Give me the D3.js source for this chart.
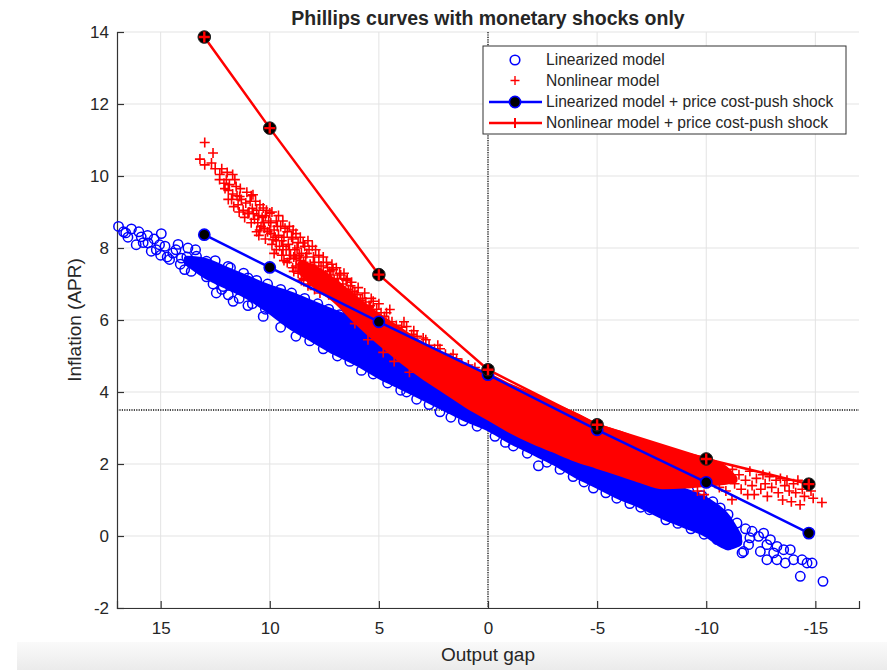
<!DOCTYPE html>
<html>
<head>
<meta charset="utf-8">
<script src="https://cdn.jsdelivr.net/npm/d3@7"></script>
<style>
  body { margin: 0; background: #fff; }
  text { font-family: "Liberation Sans", Arial, Helvetica, sans-serif; fill: #262626; }
</style>
</head>
<body>
<div id="chart"></div>
<script>
// ---- data ----
var xTicks = [15, 10, 5, 0, -5, -10, -15];
var yTicks = [-2, 0, 2, 4, 6, 8, 10, 12, 14];

// price cost-push shock lines
var shockX = [13, 10, 5, 0, -5, -10, -14.7];
var linShock = [8.37, 7.46, 5.95, 4.48, 2.95, 1.49, 0.08];
var nonShock = [13.86, 11.33, 7.26, 4.62, 3.09, 2.14, 1.44];

// dense core of the linearized cloud (upper / lower edge)
var blueBandX  = [13.8, 13, 12, 11, 10, 9, 8, 7, 6, 5, 4, 3, 2, 1, 0, -1, -2, -3, -4, -5, -6, -7, -8, -9, -10, -11, -11.5];
var blueBandHi = [7.7, 7.65, 7.4, 7.15, 6.9, 6.7, 6.45, 6.2, 5.95, 5.6, 5.2, 4.85, 4.45, 4.15, 3.85, 3.55, 3.3, 3.0, 2.7, 2.45, 2.15, 1.85, 1.45, 1.25, 1.0, 0.5, 0.0];
var blueBandLo = [7.6, 7.25, 6.95, 6.65, 6.25, 5.8, 5.45, 5.1, 4.8, 4.45, 4.15, 3.85, 3.55, 3.25, 3.0, 2.65, 2.35, 2.05, 1.7, 1.4, 1.1, 0.85, 0.55, 0.3, 0.05, -0.3, -0.2];

// dense core of the nonlinear cloud
var redBandX  = [8.6, 8, 7, 6, 5, 4, 3, 2, 1, 0, -1, -2, -3, -4, -5, -6, -7, -8, -9, -10, -10.8, -11.3];
var redBandHi = [7.55, 7.45, 7.05, 6.55, 6.1, 5.7, 5.3, 4.95, 4.7, 4.45, 4.15, 3.9, 3.62, 3.35, 3.05, 2.85, 2.62, 2.42, 2.25, 2.1, 1.9, 1.6];
var redBandLo = [7.35, 7.0, 6.55, 5.95, 5.4, 4.9, 4.45, 4.05, 3.65, 3.3, 2.95, 2.65, 2.4, 2.15, 1.95, 1.75, 1.55, 1.38, 1.4, 1.45, 1.5, 1.55];

// single linearized points outside the core
var bluePts = [
  [16.93, 8.6], [16.34, 8.53], [16.6, 8.42], [15.89, 8.31], [16.12, 8.09], [15.58, 8.14], [15.43, 7.91],
  [14.97, 8.4], [15.05, 8.09], [15.3, 8.25], [14.44, 7.86], [14.59, 7.68], [14.05, 7.72], [13.75, 8.0],
  [14.2, 8.1], [13.9, 7.4], [13.36, 7.77], [13.29, 7.49], [12.9, 7.63], [12.75, 7.31], [13.5, 7.6],
  [16.7, 8.45], [16.5, 8.3], [16.0, 8.45], [15.8, 8.15], [15.6, 8.35], [15.2, 7.95], [15.0, 7.8],
  [14.8, 8.05], [14.7, 7.75], [14.3, 7.95], [14.1, 7.55], [13.8, 7.75], [13.6, 7.35], [13.4, 7.95],
  [13.1, 7.4], [12.9, 7.2], [12.6, 7.0], [12.2, 6.85], [11.9, 6.7], [11.4, 6.6], [11.0, 6.4], [10.2, 6.3],
  [11.91, 7.49], [12.45, 6.75], [11.68, 6.52], [12.14, 6.93], [11.0, 7.17], [11.22, 6.84], [10.61, 6.66],
  [12.5, 7.65], [11.8, 7.45], [11.2, 7.3], [10.6, 7.1], [10.1, 7.0], [9.5, 6.85], [9.0, 6.75], [8.4, 6.6],
  [7.8, 6.45], [7.3, 6.3], [6.8, 6.15], [12.3, 7.1], [11.5, 6.9], [10.8, 6.45],
  [10.3, 6.1], [9.5, 5.8], [8.8, 5.55], [8.17, 5.42], [7.55, 5.2], [6.9, 5.0], [6.33, 4.85], [5.8, 4.6],
  [5.26, 4.5], [4.6, 4.25], [4.0, 4.05], [3.73, 4.0], [3.27, 3.8], [2.7, 3.65], [2.2, 3.45], [1.7, 3.3],
  [1.13, 3.2], [0.5, 3.05], [-0.32, 2.77], [-0.8, 2.6], [-1.16, 2.5], [-1.8, 2.3], [-2.31, 1.95],
  [-2.7, 2.05], [-3.3, 1.85], [-3.9, 1.65], [-4.4, 1.5], [-4.83, 1.33], [-5.4, 1.2], [-5.9, 1.05],
  [-6.5, 0.9], [-7.0, 0.8], [-7.4, 0.73], [-8.15, 0.45], [-8.7, 0.35], [-9.3, 0.2], [-9.9, 0.05],
  [-10.5, -0.1], [-11.0, -0.25],
  [-8.6, 1.35], [-9.2, 1.25], [-9.8, 1.12], [-10.3, 0.95], [-10.64, 0.78], [-11.0, 0.6], [-11.41, 0.36],
  [-11.64, -0.47], [-12.1, 0.13], [-12.4, -0.01], [-12.63, 0.08], [-12.78, -0.24], [-12.94, -0.1],
  [-13.24, -0.29], [-12.78, -0.66], [-13.55, -0.38], [-13.85, -0.38], [-13.62, -0.75], [-14.0, -0.66],
  [-14.39, -0.66], [-14.62, -0.75], [-14.85, -0.75], [-14.31, -1.12], [-15.35, -1.26], [-11.94, -0.24],
  [-11.41, -0.15], [-12.48, -0.43], [-13.09, -0.47], [-13.24, -0.66], [-11.71, -0.43], [-11.2, 0.1],
  [-11.8, 0.2], [-12.0, -0.05]
];

// single nonlinear points outside the core
var redPts = [
  [12.98, 10.93], [13.2, 10.47], [12.6, 10.64], [12.98, 10.31], [12.67, 10.36], [12.29, 10.04],
  [11.99, 9.9], [11.7, 10.04], [11.85, 9.76], [11.54, 9.71], [10.77, 9.48], [11.38, 9.43],
  [12.5, 10.2], [12.3, 9.9], [12.1, 9.8], [11.9, 9.6], [11.7, 9.5], [11.5, 9.45], [11.45, 9.2],
  [11.3, 9.35], [11.22, 9.05], [11.1, 9.25], [11.0, 8.95], [10.9, 9.3], [10.8, 9.1], [10.7, 8.8],
  [10.6, 9.05], [10.46, 8.5], [10.5, 8.9], [10.3, 9.11], [10.3, 8.7], [10.2, 8.9], [10.0, 8.97],
  [10.1, 8.45], [9.95, 8.7], [9.85, 8.23], [9.8, 8.5], [9.7, 8.75], [9.6, 8.35], [9.55, 8.05],
  [9.5, 8.6], [9.39, 7.95], [9.35, 8.3], [9.2, 8.45], [9.15, 8.1], [9.05, 7.8], [8.93, 8.5],
  [8.95, 8.25], [8.85, 7.95], [8.78, 7.7], [8.7, 8.15], [8.6, 7.55], [8.55, 7.85], [8.47, 8.14],
  [8.4, 7.45], [8.35, 7.75], [8.32, 7.31], [8.2, 7.95], [8.15, 7.55], [8.05, 7.25], [8.0, 7.75],
  [7.9, 7.4], [7.85, 7.15], [7.75, 7.6], [7.7, 7.3], [7.6, 7.05], [7.55, 7.5], [7.45, 7.25],
  [7.35, 7.45], [7.3, 6.95], [7.2, 7.25], [7.1, 7.4], [7.0, 6.85], [6.9, 7.15], [6.8, 7.3],
  [6.65, 7.0], [6.5, 7.1], [6.4, 6.85], [6.2, 6.8], [6.0, 6.7], [5.85, 6.55], [5.6, 6.5],
  [5.4, 6.4], [5.26, 6.52], [5.1, 6.3], [4.9, 6.2], [4.75, 6.1], [4.5, 6.29], [4.4, 5.95],
  [4.2, 5.85], [3.95, 5.8], [3.73, 5.82], [3.5, 5.6], [3.25, 5.55], [2.97, 5.5], [2.7, 5.3],
  [2.45, 5.2], [2.2, 5.2], [1.95, 5.05], [1.7, 4.95], [1.44, 4.92], [1.2, 4.8], [0.9, 4.75],
  [0.6, 4.68], [6.6, 6.45], [6.1, 5.9], [5.5, 5.45], [4.8, 5.1], [4.3, 4.85], [3.6, 4.55],
  [11.05, 9.55], [10.95, 9.0], [10.85, 9.45], [10.75, 8.95], [10.65, 9.3], [10.55, 8.7], [10.45, 9.2],
  [10.35, 8.85], [10.25, 8.55], [10.15, 9.05], [10.05, 8.75], [9.95, 8.4], [9.9, 9.0], [9.75, 8.3],
  [9.65, 8.6], [9.6, 8.9], [9.45, 8.2], [9.4, 8.75], [9.3, 8.55], [9.25, 7.95], [9.1, 8.6], [9.0, 8.3],
  [8.9, 7.75], [8.8, 8.4], [8.75, 8.0], [8.65, 7.8], [8.6, 8.3], [8.45, 7.6], [8.4, 8.05], [8.3, 7.85],
  [8.25, 8.2], [8.1, 7.4], [8.05, 8.05], [7.95, 7.6], [7.9, 7.95], [7.8, 7.3], [7.75, 7.8], [7.65, 7.5],
  [7.55, 7.75], [7.5, 7.15], [7.4, 7.6], [7.25, 7.35], [7.15, 7.55], [7.05, 7.1], [6.95, 7.45],
  [6.85, 6.95], [6.75, 7.25], [6.6, 7.3], [6.55, 6.8], [6.45, 7.15], [6.3, 6.95], [6.25, 7.05],
  [6.1, 6.75], [5.95, 6.9], [5.75, 6.6], [5.65, 6.75], [5.45, 6.35], [5.35, 6.6], [5.0, 6.45],
  [4.65, 6.2], [4.55, 5.95], [3.85, 5.95], [3.4, 5.7], [2.85, 5.45], [2.3, 5.3], [1.6, 5.05],
  [11.35, 9.65], [11.6, 9.9], [11.75, 9.35], [12.05, 9.65], [12.2, 10.2], [11.95, 10.1],
  [9.1, 7.7], [8.8, 7.5], [8.5, 7.35], [8.2, 7.15], [7.9, 7.0], [7.6, 6.85], [7.3, 6.7],
  [10.5, 8.35], [10.2, 8.25], [9.9, 8.1], [9.7, 7.95], [9.45, 7.8], [9.2, 7.6], [8.95, 7.45],
  [8.7, 7.3], [8.45, 7.15], [8.2, 7.0], [7.95, 6.85], [7.7, 6.75], [10.4, 8.6], [10.0, 8.5],
  [9.7, 8.2], [9.4, 8.05], [9.1, 7.95], [8.85, 7.8], [8.6, 7.65], [8.35, 7.55], [8.05, 7.4],
  [7.8, 7.2], [7.55, 7.05], [9.8, 7.85], [9.35, 7.65], [8.9, 7.35], [8.55, 7.1], [8.25, 6.95],
  [10.6, 8.45], [10.85, 8.7], [11.15, 8.85], [11.4, 9.0], [11.65, 9.15], [11.9, 9.35],
  [-10.5, 1.9], [-10.8, 1.6], [-11.18, 1.01], [-11.2, 1.85], [-11.3, 1.45], [-11.5, 1.7],
  [-11.6, 1.3], [-11.8, 1.55], [-11.9, 1.15], [-12.0, 1.8], [-12.1, 1.4], [-12.2, 1.15],
  [-12.3, 1.6], [-12.5, 1.3], [-12.6, 1.7], [-12.7, 1.45], [-12.8, 1.1], [-12.9, 1.65],
  [-13.0, 1.35], [-13.2, 1.55], [-13.3, 1.2], [-13.4, 1.6], [-13.5, 1.0], [-13.6, 1.4],
  [-13.7, 1.55], [-13.8, 1.25], [-13.9, 0.95], [-14.0, 1.45], [-14.1, 1.2], [-14.2, 1.55],
  [-14.3, 0.87], [-14.4, 1.3], [-14.5, 1.1], [-14.6, 1.45], [-14.8, 1.25], [-14.9, 1.05],
  [-15.3, 0.93], [-10.9, 1.25], [-11.0, 1.75], [-10.6, 1.35], [-9.6, 1.25], [-9.9, 1.15]
];

var legendLabels = [
  "Linearized model",
  "Nonlinear model",
  "Linearized model + price cost-push shock",
  "Nonlinear model + price cost-push shock"
];

var zeroGap = 0;
var steadyInfl = 3.5;

// ---- drawing ----
var W = 887, H = 670;
var plot = {left: 117, right: 859, top: 32, bottom: 608};
var BLUE = "#0000ff", RED = "#ff0000";

var svg = d3.select("#chart").append("svg")
    .attr("width", W)
    .attr("height", H);

// light grey strip at the bottom of the screenshot
var grad = svg.append("defs").append("linearGradient")
    .attr("id", "bot").attr("x1", 0).attr("y1", 0).attr("x2", 0).attr("y2", 1);
grad.append("stop").attr("offset", "0%").attr("stop-color", "#fafafa");
grad.append("stop").attr("offset", "100%").attr("stop-color", "#ebebeb");
svg.append("rect")
    .attr("x", 17).attr("y", 642).attr("width", W - 17).attr("height", H - 642)
    .attr("fill", "url(#bot)");

var x = d3.scaleLinear().domain([17, -17]).range([plot.left, plot.right]);
var y = d3.scaleLinear().domain([-2, 14]).range([plot.bottom, plot.top]);

// grid
svg.append("g").selectAll("line")
    .data(xTicks)
  .enter().append("line")
    .attr("x1", function(d) { return x(d); })
    .attr("x2", function(d) { return x(d); })
    .attr("y1", plot.top).attr("y2", plot.bottom)
    .attr("stroke", "#e3e3e3").attr("stroke-width", 1);
svg.append("g").selectAll("line")
    .data(yTicks)
  .enter().append("line")
    .attr("y1", function(d) { return y(d); })
    .attr("y2", function(d) { return y(d); })
    .attr("x1", plot.left).attr("x2", plot.right)
    .attr("stroke", "#e3e3e3").attr("stroke-width", 1);

// dotted reference lines
svg.append("line")
    .attr("x1", x(zeroGap)).attr("x2", x(zeroGap))
    .attr("y1", plot.top).attr("y2", plot.bottom)
    .attr("stroke", "#111").attr("stroke-width", 1.3)
    .attr("stroke-dasharray", "1.2,1.2");
svg.append("line")
    .attr("x1", plot.left).attr("x2", plot.right)
    .attr("y1", y(steadyInfl)).attr("y2", y(steadyInfl))
    .attr("stroke", "#111").attr("stroke-width", 1.3)
    .attr("stroke-dasharray", "1.2,1.2");

// axes
var xAxis = d3.axisBottom(x).tickValues(xTicks).tickSize(-7).tickPadding(14)
    .tickFormat(function(d) { return d; });
var yAxis = d3.axisLeft(y).tickValues(yTicks).tickSize(-7).tickPadding(8)
    .tickFormat(function(d) { return d; });

var gx = svg.append("g")
    .attr("transform", "translate(0," + plot.bottom + ")")
    .call(xAxis);
var gy = svg.append("g")
    .attr("transform", "translate(" + plot.left + ",0)")
    .call(yAxis);

[gx, gy].forEach(function(g) {
  g.select(".domain").attr("stroke", "#333").attr("stroke-width", 1.2);
  g.selectAll(".tick line").attr("stroke", "#333").attr("stroke-width", 1.2);
  g.selectAll(".tick text")
    .style("font-family", '"Liberation Sans", Arial, sans-serif')
    .style("font-size", "17px")
    .attr("fill", "#262626");
});

// helpers for markers
function plusPath(cx, cy, s) {
  return "M" + (cx - s) + "," + cy + "H" + (cx + s) + "M" + cx + "," + (cy - s) + "V" + (cy + s);
}

// linearized cloud
var blueBand = blueBandX.map(function(d, i) { return {x: d, hi: blueBandHi[i], lo: blueBandLo[i]}; });
var area = d3.area()
    .x(function(d) { return x(d.x); })
    .y0(function(d) { return y(d.lo); })
    .y1(function(d) { return y(d.hi); })
    .curve(d3.curveMonotoneX);

svg.append("path")
    .datum(blueBand)
    .attr("d", area)
    .attr("fill", BLUE)
    .attr("stroke", BLUE).attr("stroke-width", 6).attr("stroke-linejoin", "round");

svg.append("g").selectAll("circle")
    .data(bluePts)
  .enter().append("circle")
    .attr("cx", function(d) { return x(d[0]); })
    .attr("cy", function(d) { return y(d[1]); })
    .attr("r", 4.7)
    .attr("fill", "none")
    .attr("stroke", BLUE).attr("stroke-width", 1.5);

// nonlinear cloud
var redBand = redBandX.map(function(d, i) { return {x: d, hi: redBandHi[i], lo: redBandLo[i]}; });
svg.append("path")
    .datum(redBand)
    .attr("d", area)
    .attr("fill", RED)
    .attr("stroke", RED).attr("stroke-width", 6).attr("stroke-linejoin", "round");

svg.append("path")
    .attr("d", redPts.map(function(d) { return plusPath(x(d[0]), y(d[1]), 5); }).join(""))
    .attr("fill", "none")
    .attr("stroke", RED).attr("stroke-width", 1.6);

// shock lines
var line = d3.line()
    .x(function(d) { return x(d[0]); })
    .y(function(d) { return y(d[1]); });

var linPts = shockX.map(function(d, i) { return [d, linShock[i]]; });
var nonPts = shockX.map(function(d, i) { return [d, nonShock[i]]; });

svg.append("path")
    .datum(linPts)
    .attr("d", line)
    .attr("fill", "none").attr("stroke", BLUE).attr("stroke-width", 2.5);
svg.append("g").selectAll("circle")
    .data(linPts)
  .enter().append("circle")
    .attr("cx", function(d) { return x(d[0]); })
    .attr("cy", function(d) { return y(d[1]); })
    .attr("r", 5.6)
    .attr("fill", "#000")
    .attr("stroke", BLUE).attr("stroke-width", 1.6);

svg.append("path")
    .datum(nonPts)
    .attr("d", line)
    .attr("fill", "none").attr("stroke", RED).attr("stroke-width", 2.5);
svg.append("g").selectAll("circle")
    .data(nonPts)
  .enter().append("circle")
    .attr("cx", function(d) { return x(d[0]); })
    .attr("cy", function(d) { return y(d[1]); })
    .attr("r", 6.3)
    .attr("fill", "#000")
    .attr("stroke", "#222").attr("stroke-width", 1);
svg.append("path")
    .attr("d", nonPts.map(function(d) { return plusPath(x(d[0]), y(d[1]), 5.5); }).join(""))
    .attr("fill", "none")
    .attr("stroke", RED).attr("stroke-width", 2.4);

// legend
var lg = svg.append("g").attr("transform", "translate(483,46)");
lg.append("rect")
    .attr("x", 0).attr("y", 0).attr("width", 363).attr("height", 88)
    .attr("fill", "#fff").attr("stroke", "#333").attr("stroke-width", 1);

var rowY = [14, 34.5, 56, 77];
lg.selectAll("text.lab")
    .data(legendLabels)
  .enter().append("text")
    .attr("class", "lab")
    .attr("x", 63)
    .attr("y", function(d, i) { return rowY[i]; })
    .attr("dy", "0.35em")
    .style("font-size", "15.6px")
    .text(function(d) { return d; });

lg.append("circle")
    .attr("cx", 32).attr("cy", rowY[0]).attr("r", 4.8)
    .attr("fill", "none").attr("stroke", BLUE).attr("stroke-width", 1.6);
lg.append("path")
    .attr("d", plusPath(32, rowY[1], 4.5))
    .attr("stroke", RED).attr("stroke-width", 1.4);
lg.append("line")
    .attr("x1", 6).attr("x2", 59).attr("y1", rowY[2]).attr("y2", rowY[2])
    .attr("stroke", BLUE).attr("stroke-width", 2.5);
lg.append("circle")
    .attr("cx", 32).attr("cy", rowY[2]).attr("r", 5.6)
    .attr("fill", "#000").attr("stroke", BLUE).attr("stroke-width", 1.6);
lg.append("line")
    .attr("x1", 6).attr("x2", 59).attr("y1", rowY[3]).attr("y2", rowY[3])
    .attr("stroke", RED).attr("stroke-width", 2.5);
lg.append("path")
    .attr("d", plusPath(32, rowY[3], 5))
    .attr("stroke", RED).attr("stroke-width", 2);

// titles
svg.append("text")
    .attr("x", x(0)).attr("y", 25)
    .attr("text-anchor", "middle")
    .style("font-size", "19.5px").style("font-weight", "bold")
    .attr("fill", "#111")
    .text("Phillips curves with monetary shocks only");

svg.append("text")
    .attr("x", x(0)).attr("y", 661)
    .attr("text-anchor", "middle")
    .style("font-size", "19px")
    .text("Output gap");

svg.append("text")
    .attr("transform", "translate(81," + ((plot.top + plot.bottom) / 2) + ") rotate(-90)")
    .attr("text-anchor", "middle")
    .style("font-size", "19px")
    .text("Inflation (APR)");
</script>
</body>
</html>
